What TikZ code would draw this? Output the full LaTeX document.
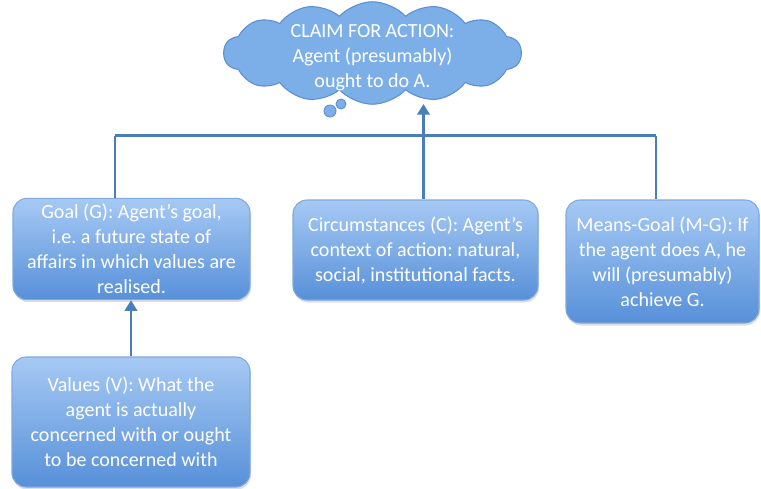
\documentclass[tikz,border=0pt]{standalone}
\usepackage{fontspec}
\setmainfont{Carlito}
\usetikzlibrary{shapes.symbols,arrows.meta,shadows}

\definecolor{boxtop}{HTML}{A6C9F4}
\definecolor{boxbot}{HTML}{5790D9}
\definecolor{boxline}{HTML}{7FA9DB}
\definecolor{linkblue}{HTML}{4A7EBB}
\definecolor{cloudfill}{HTML}{7CAEE8}
\definecolor{cloudline}{HTML}{5B8FD2}

\begin{document}
\begin{tikzpicture}[
    font=\fontsize{11.4}{14.2}\selectfont\frenchspacing,
    >={Triangle[width=7pt,length=6pt]},
    premise/.style={rectangle, draw=boxline, top color=boxtop, bottom color=boxbot, rounded corners=8pt, align=center, text=white, line width=0.6pt, drop shadow={opacity=0.25, shadow xshift=0.02cm, shadow yshift=-0.05cm}},
    claim/.style={cloud, cloud puffs=14, cloud puff arc=95, cloud ignores aspect, draw=cloudline, fill=cloudfill, line width=0.6pt, minimum width=5.95cm, minimum height=2.05cm},
    puff/.style={circle, draw=cloudline, fill=cloudfill, line width=0.5pt, inner sep=0pt},
    link/.style={draw=linkblue, line width=1.4pt}
]
\useasboundingbox (0,0) rectangle (15.22,-9.76);

% Claim (cloud at the top)
\node[claim, label={[text=white, align=center, yshift=-0.1cm]center:CLAIM FOR ACTION:\\ Agent (presumably)\\ ought to do A.}] (claim) at (7.45,-1.06) {};
\node[puff, minimum size=0.24cm] (tail1) at (6.6,-2.22) {};
\node[puff, minimum size=0.2cm] (tail2) at (6.82,-2.08) {};

% Premises (y = -5)
\node[premise, minimum width=4.74cm, minimum height=1.96cm] (goal) at (2.63,-4.98) {Goal (G): Agent’s goal,\\ i.e. a future state of\\ affairs in which values are\\ realised.};
\node[premise, minimum width=4.9cm, minimum height=2.0cm] (circ) at (8.31,-5.0) {Circumstances (C): Agent’s\\ context of action: natural,\\ social, institutional facts.};
\node[premise, minimum width=3.86cm, minimum height=2.46cm] (means) at (13.25,-5.23) {Means-Goal (M-G): If\\ the agent does A, he\\ will (presumably)\\ achieve G.};
\node[premise, minimum width=4.76cm, minimum height=2.6cm] (values) at (2.62,-8.44) {Values (V): What the\\ agent is actually\\ concerned with or ought\\ to be concerned with};

% Bus from premises up to the claim
\coordinate (busL) at (2.3,-2.71);
\coordinate (busC) at (8.47,-2.71);
\coordinate (busR) at (13.12,-2.71);
\coordinate (tip) at (8.47,-2.08);
\draw[link] (busL) -- (busR);
\draw[link] (busL) -- (busL |- goal.north);
\draw[link] (busC) -- (busC |- circ.north);
\draw[link] (busR) -- (busR |- means.north);
\draw[link, ->] (busC) -- (tip);

% Values support the goal
\draw[link, ->] (values.north) -- (values.north |- goal.south);

\end{tikzpicture}
\end{document}
